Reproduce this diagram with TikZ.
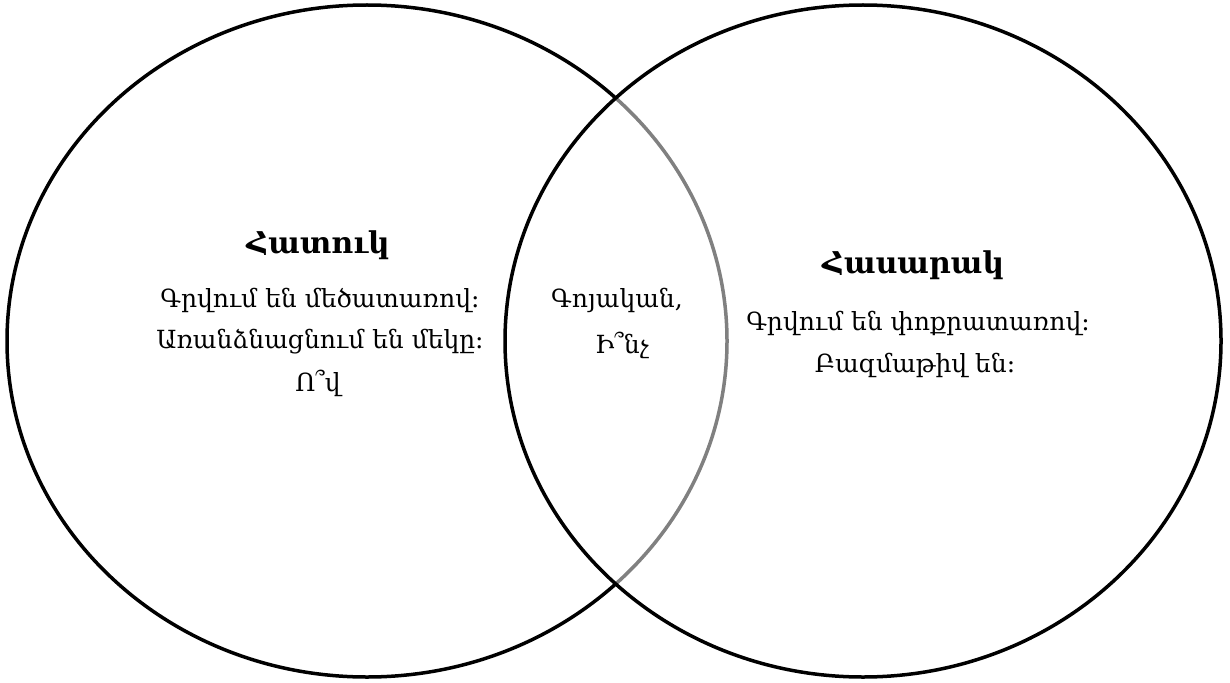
\documentclass[tikz,border=0pt]{standalone}
\usepackage{fontspec}
\setmainfont{DejaVu Serif}
\begin{document}
\begin{tikzpicture}[x=1pt,y=-1pt]
\useasboundingbox (0,0) rectangle (1230,682);
% the two sets
\coordinate (L) at (367,341); \coordinate (R) at (863,341);
\draw[line width=3.5pt] (L) ellipse[x radius=360,y radius=336];
\draw[line width=3.5pt,fill=white,fill opacity=.5] (R) ellipse[x radius=358,y radius=336];
% left set
\node[font=\bfseries\fontsize{30}{34}\selectfont] (hatuk) at (318,245) {Հատուկ};
\node[font=\fontsize{25}{28}\selectfont] (hl1) at (320,300) {Գրվում են մեծատառով։};
\node[font=\fontsize{25}{28}\selectfont] (hl2) at (320,342) {Առանձնացնում են մեկը։};
\node[font=\fontsize{25}{28}\selectfont] (hl3) at (318,383) {Ո՞վ};
% common part
\node[font=\fontsize{25}{28}\selectfont] (gl1) at (617,300) {Գոյական,};
\node[font=\fontsize{25}{28}\selectfont] (gl2) at (622,345) {Ի՞նչ};
% right set
\node[font=\bfseries\fontsize{30}{34}\selectfont] (hasarak) at (913,265) {Հասարակ};
\node[font=\fontsize{25}{28}\selectfont] (hr1) at (918,323) {Գրվում են փոքրատառով։};
\node[font=\fontsize{25}{28}\selectfont] (hr2) at (915,365) {Բազմաթիվ են։};
\end{tikzpicture}
\end{document}
